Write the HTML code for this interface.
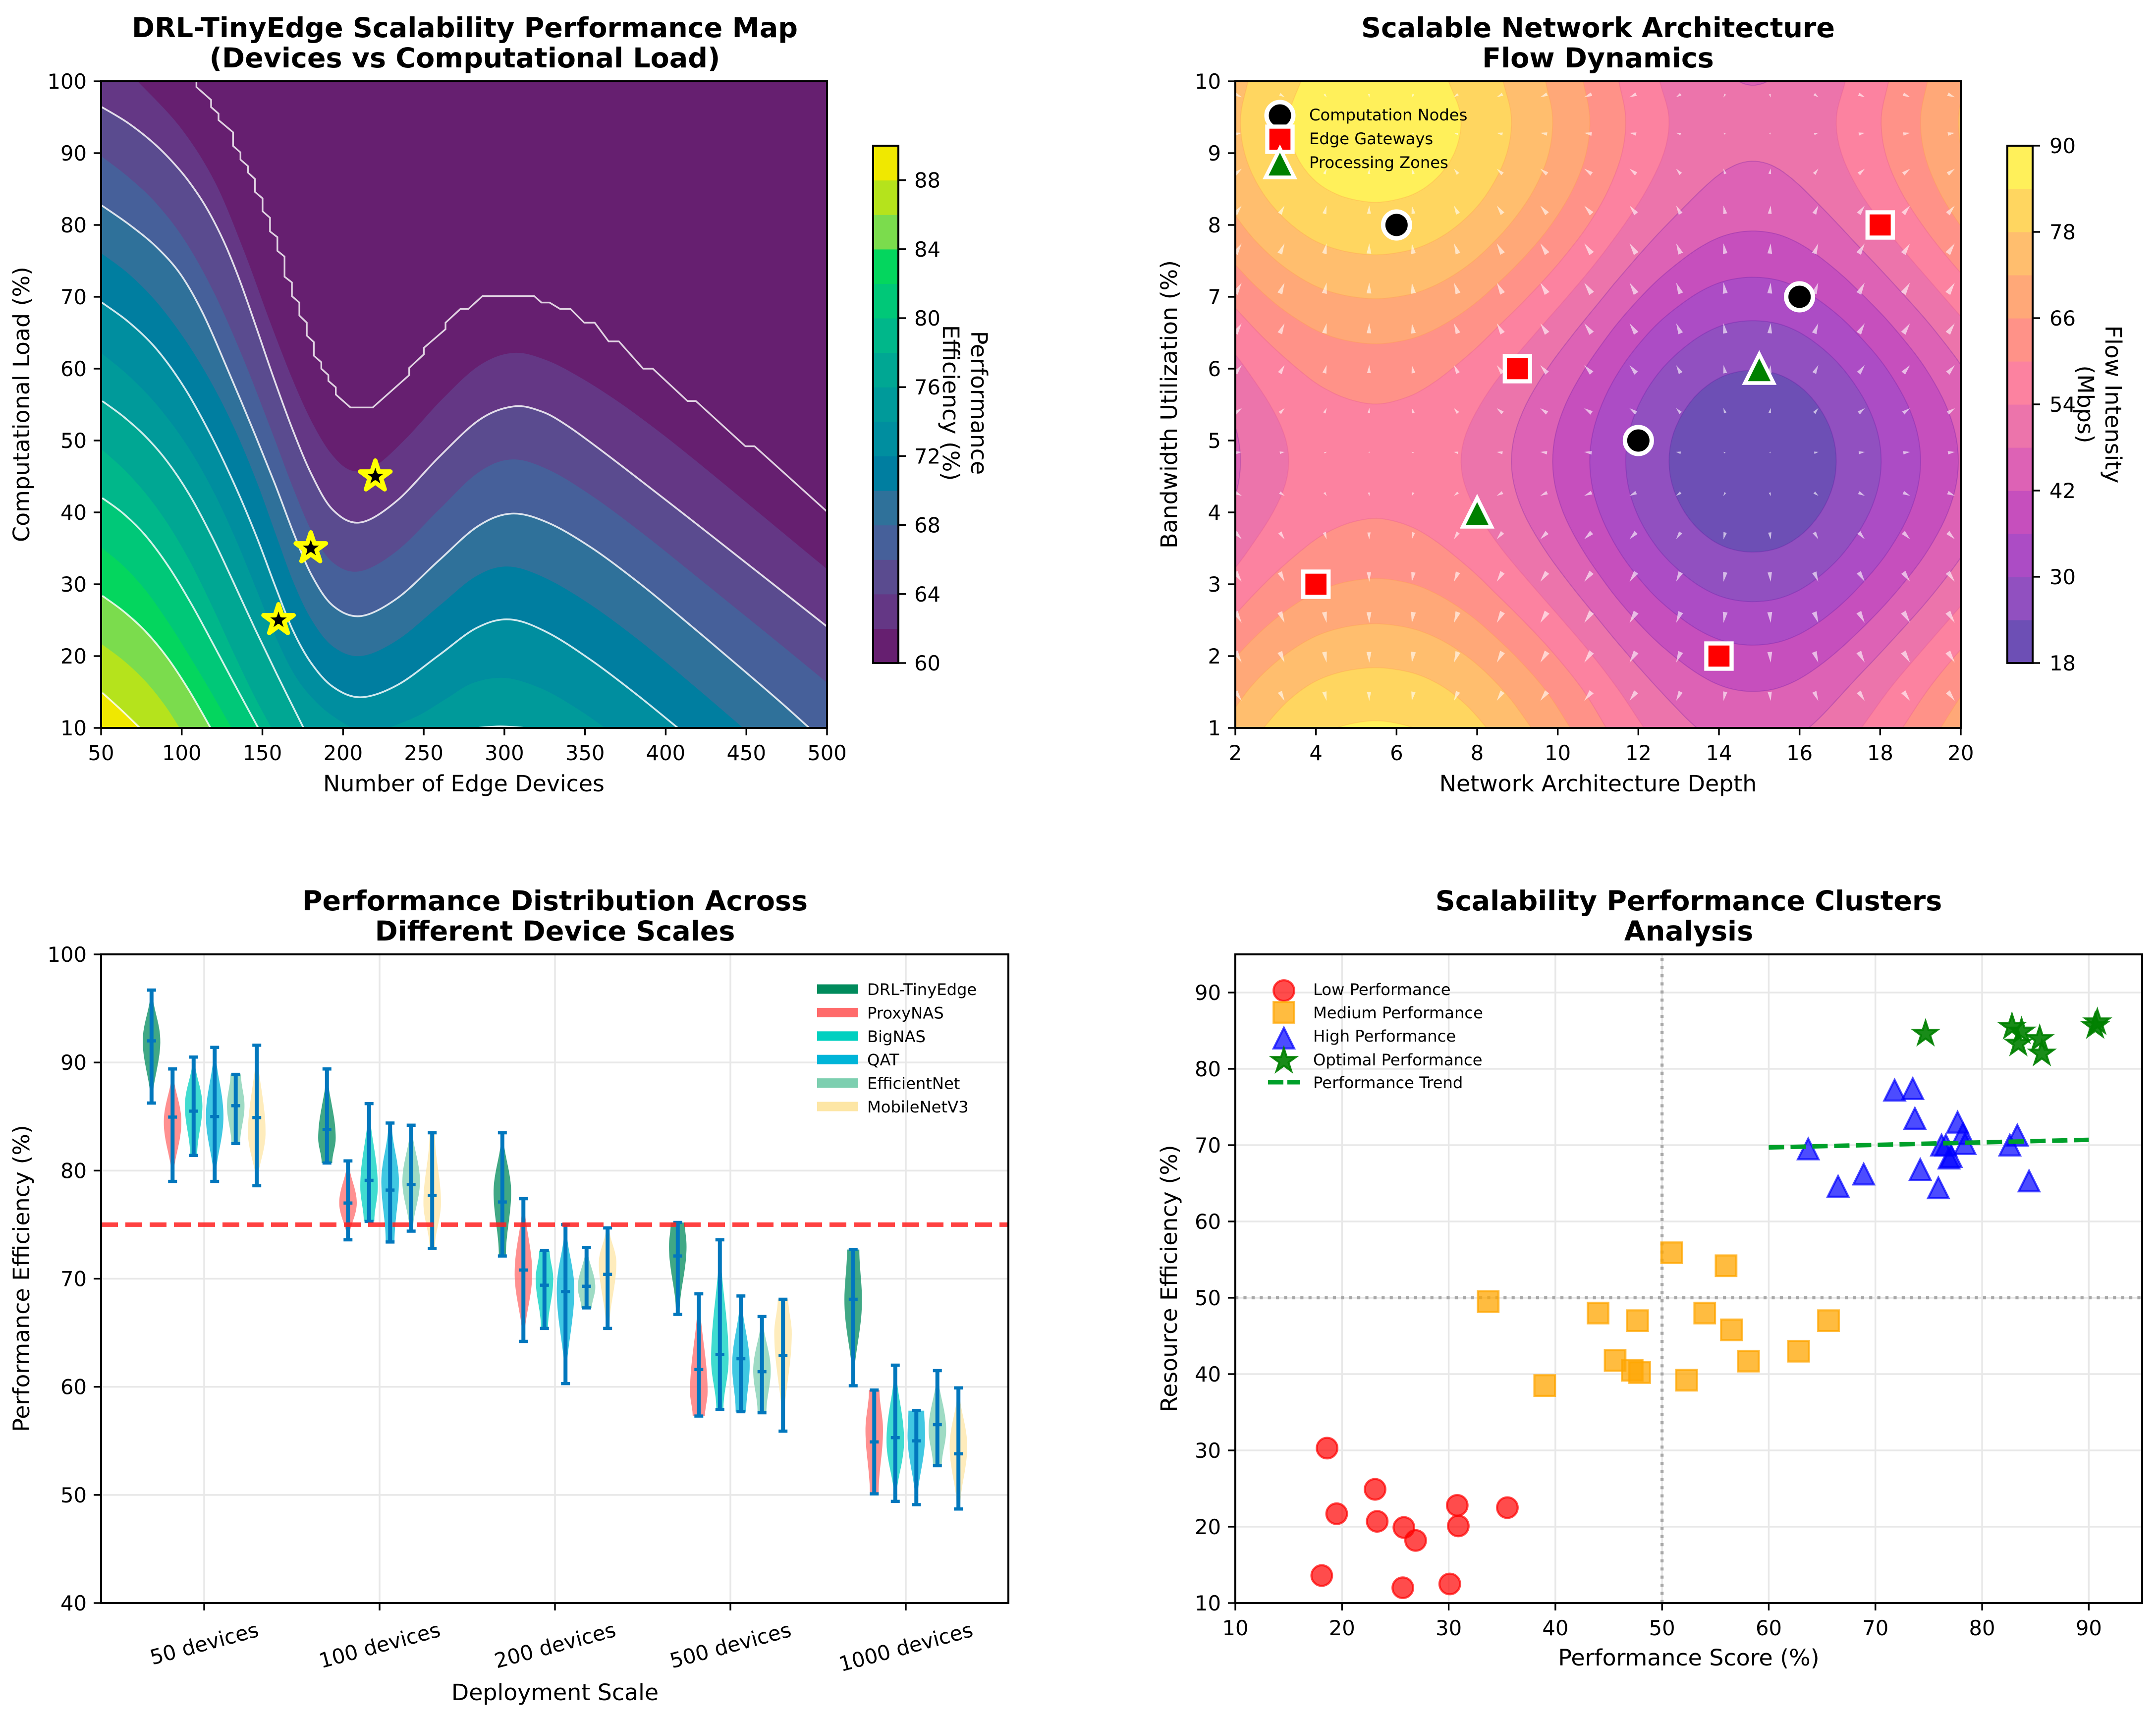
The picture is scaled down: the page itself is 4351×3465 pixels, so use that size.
<!DOCTYPE html>
<html lang="en">
<head>
<meta charset="utf-8">
<title>DRL-TinyEdge Scalability Charts</title>
<style>
html,body{margin:0;padding:0;background:#fff;}
svg{display:block;font-family:"DejaVu Sans","Liberation Sans",sans-serif;}
.title{font-size:55.5px;font-weight:bold;text-anchor:middle;}
.axis-title{font-size:45.83px;text-anchor:middle;}
</style>
</head>
<body>
<svg id="fig" xmlns="http://www.w3.org/2000/svg" width="4351" height="3465" viewBox="0 0 4351 3465">
<defs>
<clipPath id="clipA"><rect x="204" y="164" width="1465" height="1305"/></clipPath>
<clipPath id="clipB"><rect x="2493" y="164" width="1464" height="1305"/></clipPath>
</defs>
<rect width="4351" height="3465" fill="#fff"/>

<g id="panelA">
<text class="title" x="938" y="75">DRL-TinyEdge Scalability Performance Map</text>
<text class="title" x="938" y="136">(Devices vs Computational Load)</text>
<text class="axis-title" x="936" y="1597">Number of Edge Devices</text>
<text class="axis-title" transform="rotate(-90 59 816)" x="59" y="816">Computational Load (%)</text>
<text class="axis-title" transform="rotate(90 1960 813)" x="1960" y="813">Performance</text>
<text class="axis-title" transform="rotate(90 1903 813)" x="1903" y="813">Efficiency (%)</text>
<g id="plotA" clip-path="url(#clipA)"></g>
<g id="axesA"></g>
</g>

<g id="panelB">
<text class="title" x="3225" y="75">Scalable Network Architecture</text>
<text class="title" x="3225" y="136">Flow Dynamics</text>
<text class="axis-title" x="3225" y="1597">Network Architecture Depth</text>
<text class="axis-title" transform="rotate(-90 2375 816)" x="2375" y="816">Bandwidth Utilization (%)</text>
<text class="axis-title" transform="rotate(90 4249 816)" x="4249" y="816">Flow Intensity</text>
<text class="axis-title" transform="rotate(90 4193 816)" x="4193" y="816">(Mbps)</text>
<g id="plotB" clip-path="url(#clipB)"></g>
<g id="marksB"></g>
<g id="axesB"></g>
</g>

<g id="panelC">
<text class="title" x="1120" y="1837">Performance Distribution Across</text>
<text class="title" x="1120" y="1898">Different Device Scales</text>
<text class="axis-title" x="1120" y="3431">Deployment Scale</text>
<text class="axis-title" transform="rotate(-90 59 2580)" x="59" y="2580">Performance Efficiency (%)</text>
<g id="gridC"></g>
<g id="marksC"></g>
<g id="axesC"></g>
</g>

<g id="panelD">
<text class="title" x="3408" y="1837">Scalability Performance Clusters</text>
<text class="title" x="3408" y="1898">Analysis</text>
<text class="axis-title" x="3408" y="3361">Performance Score (%)</text>
<text class="axis-title" transform="rotate(-90 2375 2580)" x="2375" y="2580">Resource Efficiency (%)</text>
<g id="gridD"></g>
<g id="marksD"></g>
<g id="axesD"></g>
</g>
</svg>

<script>
/* ---------- Panel A data: load (%) at which efficiency reaches each level, digitised as [devices, load] ---------- */
const bandColorsA = ['#661f70','#643785','#5a4b8f','#46609a','#2f719a','#007ea0','#008e9f','#009a9a','#00a793','#00b78a','#00c878','#04d65e','#7bdc4d','#b5e31c','#f0e800'];
const iso60 = [[109.1,100],[109.1,99.2],[118.2,97.4],[118.2,96.4],[122.8,95.5],[122.8,94.6],[131.8,92.9],[131.8,91],[136.4,90.1],[136.4,89.1],[141,88.2],[141,87.3],[145.4,86.4],[145.4,84.6],[150.1,83.7],[150.1,81.9],[154.7,81],[154.7,79.1],[159.3,78.3],[159.3,76.4],[163.7,75.6],[163.7,72.8],[168.3,72],[168.3,70.1],[172.9,69.2],[172.9,67.4],[177.5,66.4],[177.5,64.6],[181.9,63.7],[181.9,61.8],[186.5,60.9],[186.5,60],[190.9,59.1],[190.9,58.3],[195.5,57.4],[195.5,56.4],[204.6,54.6],[218.4,54.6],[241,59.1],[241,60.1],[250.1,62],[250.1,62.9],[263.5,65.5],[263.5,66.4],[272.7,68.3],[277.6,68.3],[286.4,70.1],[318.5,70.1],[323,69.2],[328,69.2],[334.6,68.3],[341,68.3],[349.5,66.4],[356,66.4],[364.6,63.8],[371,63.8],[386,60],[392,60],[413.5,55.5],[418.7,55.5],[449.4,49.2],[455.1,49.2],[500,40.1]];
const iso62 = [[72.6,100],[101.7,93.2],[119.3,87],[137,77.2],[154.5,65.5],[171.4,58],[180.3,52.7],[194,47.8],[206.4,46],[220,46.6],[235.2,49],[265,56.7],[285,60.8],[305,62.2],[325,61],[349,58.3],[370,55.5],[400,50.6],[430,45],[460,39.5],[500,32.1]];
const iso64 = [[50.5,96.4],[66.4,94.3],[84,91.4],[101.7,86.7],[110.5,84],[119.3,80.6],[128.1,76.6],[137,72],[145.7,65.8],[157.7,58.3],[169.3,51.5],[180.3,45.7],[194,40.7],[211.8,38.3],[228.3,39.8],[265,49.5],[283,53.2],[305.5,54.6],[325,53.7],[340,51.7],[355,49.3],[385,44.4],[415,39.2],[445,33.6],[475,28.7],[500,24.1]];
const iso66 = [[50.5,89.5],[66.4,86.7],[84,83],[101.7,78],[119.3,71],[137,62],[154.5,52],[170.7,42.9],[180.3,37.4],[194,33.6],[211.8,31.7],[228.3,33],[265,41.6],[283,46],[304.8,47],[325,46],[355,42.3],[385,37],[415,31.8],[445,26.3],[475,21],[500,16.3]];
const iso68 = [[50.5,82.7],[66.4,80.3],[84,76.9],[101.7,72.3],[110.5,69.2],[128,59.7],[142.2,52],[159.7,44.1],[169.3,37],[180.3,31.2],[194,27.5],[213.2,25.4],[228.3,26.6],[265,34.6],[283,38.3],[304.8,39.6],[325,38.6],[355,34.9],[385,30],[415,24.1],[445,18.6],[475,13],[489,10]];
const iso70 = [[50.5,76],[66.4,73.5],[84,69.5],[101.7,64],[117.2,58.3],[132.3,52.1],[146,44.5],[159.7,36.5],[169,30.2],[180.3,25.3],[194,21.8],[213.2,19.7],[228.3,21],[265,28.2],[283,31.2],[301,32.2],[322,31.2],[355,26.9],[385,22],[415,16.1],[448,10]];
const iso72 = [[50.5,69.2],[66.4,66.4],[84,63],[101.7,57.8],[118.6,50],[132.3,43.8],[146,37.4],[159.7,29],[167.9,23.5],[180.3,19.5],[194,16.1],[213.2,14],[228.3,14.9],[265,21],[283,24.1],[302.5,25],[325,23.5],[355,19.2],[385,14],[407.5,10]];
const iso74 = [[50.5,62.1],[66.4,59.4],[84,54.8],[104.9,49.4],[118.6,42.9],[132.3,36.7],[146,30],[159.7,22],[170,17],[187.2,12.5],[205,10]];
const iso74b = [[228.3,10],[247,11.5],[265,13.6],[280,16.4],[299.5,17.6],[325,15.2],[347.5,12.1],[362.5,10]];
const iso76 = [[50.7,55.5],[63.7,53.4],[77.4,50.6],[91.1,46.9],[104.9,42.6],[118.6,36.7],[132.3,30],[146,23.5],[157,18.3],[175.5,10]];
const iso76b = [[283,10],[296.5,10.6],[313,10]];
const iso78 = [[50.7,48.7],[63.7,46.3],[77.4,42.6],[91.1,38.3],[104.9,33.6],[118.6,26.9],[132.3,20.4],[146,13.6],[155.6,10]];
const iso80 = [[50.7,42],[63.7,39.8],[77.4,37],[91.1,32.7],[107.6,26.6],[118.6,22],[132.3,16.1],[147.4,10]];
const iso82 = [[50.7,35],[63.7,32.7],[77.4,29.3],[91.1,25],[104.9,19.5],[118.6,15.2],[130.9,10]];
const iso84 = [[50.7,28.4],[63.7,26.3],[77.4,23.5],[91.1,19.8],[104.9,15.2],[117.9,10]];
const iso86 = [[50.7,21.6],[63.7,19.5],[77.4,16.7],[91.1,12.7],[98.7,10]];
const iso88 = [[50.7,14.9],[63.7,12.4],[74,10]];
const isoLevels = [62,64,66,68,70,72,74,74,76,76,78,80,82,84,86,88];
const isoArcs = [iso62,iso64,iso66,iso68,iso70,iso72,iso74,iso74b,iso76,iso76b,iso78,iso80,iso82,iso84,iso86,iso88];
const optimalDevices = [160,180,220];
const optimalLoads = [25,35,45];
const xTicksA = [50,100,150,200,250,300,350,400,450,500];
const yTicksA = [10,20,30,40,50,60,70,80,90,100];
const cbarTicksA = [60,64,68,72,76,80,84,88];

/* ---------- Panel B data ---------- */
const bandColorsB = ['#6d4fb5','#9150c0','#ac4cc5','#c64fbd','#dd62b5','#ec74ab','#fc82a0','#ff9288','#ffa878','#ffbe6e','#ffd660','#fff05a'];
const flowLevels = [24,30,36,42,48,54,60,66,72,78,84];
const depthStart = 2;
const depthStep = 0.5;
const flowByDepth = [8.29,11.21,13.69,15.70,17.27,18.25,18.79,18.99,18.74,18.14,17.02,15.42,13.40,10.91,8.23,5.35,2.25,-0.98,-4.34,-7.74,-10.89,-13.70,-15.99,-17.88,-19.2,-19.86,-19.96,-19.53,-18.44,-16.72,-14.53,-11.90,-9.10,-6.06,-2.97,0.25,3.43];
const bandwidthStart = 1;
const bandwidthStep = 0.5;
const flowByBandwidth = [65.74,62.05,57.48,52.51,47.71,43.60,40.61,39.10,39.22,40.97,44.15,48.40,53.27,58.21,62.68,66.16,68.35,68.94,67.85];
const nodeDepths = [6,16,12];
const nodeBandwidths = [8,7,5];
const gatewayDepths = [4,9,14,18];
const gatewayBandwidths = [3,6,2,8];
const zoneDepths = [8,15];
const zoneBandwidths = [4,6];
const xTicksB = [2,4,6,8,10,12,14,16,18,20];
const yTicksB = [1,2,3,4,5,6,7,8,9,10];
const cbarTicksB = [18,30,42,54,66,78,90];

/* ---------- Panel C data ---------- */
const deviceScales = ['50 devices','100 devices','200 devices','500 devices','1000 devices'];
const methodNames = ['DRL-TinyEdge','ProxyNAS','BigNAS','QAT','EfficientNet','MobileNetV3'];
const methodColors = ['#008b5c','#ff6b6b','#00d0c0','#00b5d8','#7dcfb0','#fde6a5'];
const violinMax = [[96.7,89.4,90.5,91.4,88.9,91.6],[89.4,80.9,86.2,84.4,84.2,83.5],[83.5,77.4,72.6,75,72.9,74.7],[75.2,68.6,73.6,68.4,66.5,68.1],[72.7,59.7,62,57.8,61.5,59.9]];
const violinMin = [[86.25,79,81.4,79,82.5,78.6],[80.7,73.6,75.3,73.4,74.4,72.8],[72.1,64.2,65.4,60.3,67.3,65.4],[66.7,57.3,57.9,57.7,57.6,55.9],[60.1,50.1,49.4,49.1,52.7,48.7]];
const violinMean = [[92,84.95,85.5,85,86,84.9],[83.8,77,79.1,78.2,78.7,77.7],[77.1,70.8,69.4,68.8,69.3,70.4],[72.1,61.6,63,62.6,61.4,62.9],[68.1,54.9,55.3,55,56.5,53.8]];
const violinPeak = [[92,84.5,86,85,86,83.5],[83,77,78.5,79,79,77],[78,70.5,70,69,69.2,71.5],[73,59.5,62.5,62,61.5,65],[68,56,55,55.5,56,54.5]];
const violinTopWidth = [[0.1,0.05,0.1,0.1,0.6,0.05],[0.05,0.1,0.05,0.2,0.1,0.3],[0.1,0.1,0.6,0.1,0.1,0.2],[0.8,0.1,0.05,0.1,0.1,0.6],[0.7,0.6,0.1,0.9,0.05,0.1]];
const violinBottomWidth = [[0.1,0.05,0.4,0.1,0.5,0.05],[0.6,0.1,0.6,0.5,0.2,0.3],[0.4,0.1,0.4,0.05,0.6,0.2],[0.2,0.7,0.4,0.6,0.5,0.05],[0.05,0.5,0.1,0.1,0.5,0.2]];
const targetEfficiency = 75;
const yTicksC = [40,50,60,70,80,90,100];

/* ---------- Panel D data ---------- */
const lowX = [18.6,23.1,19.5,23.3,25.8,26.9,30.8,30.9,35.5,18.1,25.7,30.1];
const lowY = [30.3,24.9,21.7,20.7,19.9,18.2,22.8,20.1,22.5,13.6,12,12.5];
const mediumX = [33.7,44,47.7,54,56.5,65.6,62.8,58.1,45.6,47.2,47.9,52.3,39,50.9,56];
const mediumY = [49.5,48,47,48,45.8,47,43,41.7,41.8,40.5,40.2,39.2,38.5,55.9,54.2];
const highX = [71.8,73.5,73.7,77.7,78.2,83.3,78.4,76.2,76.6,82.6,63.7,77.1,76.9,74.2,68.9,66.5,75.9,84.4];
const highY = [77.2,77.4,73.5,73,71.5,71.3,70.2,70,70,70,69.5,68.5,68.3,66.8,66.2,64.6,64.4,65.3];
const optimalX = [74.7,82.8,83.7,83.4,85.4,85.6,90.8,90.6];
const optimalY = [84.6,85.5,84.9,83.3,83.9,82,86.1,85.6];
const trendX = [60,90];
const trendY = [69.7,70.7];
const xTicksD = [10,20,30,40,50,60,70,80,90];
const yTicksD = [10,20,30,40,50,60,70,80,90];

/* ---------- helpers ---------- */
const NS = 'http://www.w3.org/2000/svg';
const LEGEND_FS = 32.2;
const GRID_COLOR = '#e8e8e8';
const $ = id => document.getElementById(id);
function mk(tag, attrs, parent) {
  const el = document.createElementNS(NS, tag);
  for (const k in attrs) el.setAttribute(k, attrs[k]);
  if (parent) parent.appendChild(el);
  return el;
}
function txt(parent, s, x, y, fs, anchor) {
  const t = mk('text', {x: x, y: y, 'font-size': fs, 'text-anchor': anchor || 'start', fill: '#000'}, parent);
  t.textContent = s;
  return t;
}
function relax(pts) {
  /* shrink-free smoothing of digitising noise; end points stay fixed */
  let cur = pts.map(p => p.slice());
  const pass = w => {
    const next = cur.map(p => p.slice());
    for (let i = 1; i < cur.length - 1; i++) {
      next[i][0] = cur[i][0] + w * ((cur[i - 1][0] + cur[i + 1][0]) / 2 - cur[i][0]);
      next[i][1] = cur[i][1] + w * ((cur[i - 1][1] + cur[i + 1][1]) / 2 - cur[i][1]);
    }
    cur = next;
  };
  for (let n = 0; n < 4; n++) { pass(0.5); pass(-0.53); }
  return cur;
}
function curve(pts) {
  let d = '';
  for (let i = 0; i < pts.length - 1; i++) {
    const p0 = pts[Math.max(i - 1, 0)], p1 = pts[i], p2 = pts[i + 1], p3 = pts[Math.min(i + 2, pts.length - 1)];
    const c1x = p1[0] + (p2[0] - p0[0]) / 6, c1y = p1[1] + (p2[1] - p0[1]) / 6;
    const c2x = p2[0] - (p3[0] - p1[0]) / 6, c2y = p2[1] - (p3[1] - p1[1]) / 6;
    d += ' C' + c1x.toFixed(1) + ' ' + c1y.toFixed(1) + ' ' + c2x.toFixed(1) + ' ' + c2y.toFixed(1) + ' ' + p2[0].toFixed(1) + ' ' + p2[1].toFixed(1);
  }
  return d;
}
function drawFrame(g, left, top, right, bottom) {
  const frame = mk('rect', {x: left, y: top, width: right - left, height: bottom - top, fill: 'none', stroke: '#000', 'stroke-width': 4}, g);
  
  
}
function drawXTicks(g, values, fx, bottom) {
  values.forEach(v => {
    const tick = mk('line', {x1: fx(v), x2: fx(v), y1: bottom, y2: bottom + 15, stroke: '#000', 'stroke-width': 3.4}, g);
    
    
    const label = txt(g, String(v), fx(v), bottom + 65, 41.67, 'middle');
    
    
  });
}
function drawYTicks(g, values, fy, left) {
  values.forEach(v => {
    const tick = mk('line', {x1: left - 15, x2: left, y1: fy(v), y2: fy(v), stroke: '#000', 'stroke-width': 3.4}, g);
    
    
    const label = txt(g, String(v), left - 29, fy(v) + 15, 41.67, 'end');
    
    
  });
}
function drawColorbar(g, x0, x1, y0, y1, vmin, vmax, step, colors, ticks, labelX) {
  const fy = v => y1 - (v - vmin) * (y1 - y0) / (vmax - vmin);
  colors.forEach((c, i) => {
    const seg = mk('rect', {x: x0, y: fy(vmin + (i + 1) * step), width: x1 - x0, height: fy(vmin + i * step) - fy(vmin + (i + 1) * step) + 0.6, fill: c}, g);
    
    
  });
  const outline = mk('rect', {x: x0, y: y0, width: x1 - x0, height: y1 - y0, fill: 'none', stroke: '#000', 'stroke-width': 4}, g);
  
  
  ticks.forEach(v => {
    const tick = mk('line', {x1: x1, x2: x1 + 15, y1: fy(v), y2: fy(v), stroke: '#000', 'stroke-width': 3.4}, g);
    
    
    const label = txt(g, String(v), labelX, fy(v) + 15, 41.67, 'start');
    
    
  });
}
function starPoints(cx, cy, R) {
  const pts = [];
  for (let i = 0; i < 10; i++) {
    const r = i % 2 ? R * 0.382 : R, a = -Math.PI / 2 + i * Math.PI / 5;
    pts.push((cx + r * Math.cos(a)).toFixed(1) + ',' + (cy + r * Math.sin(a)).toFixed(1));
  }
  return pts.join(' ');
}
function triPoints(cx, cy, r) {
  return cx + ',' + (cy - r) + ' ' + (cx - r) + ',' + (cy + r) + ' ' + (cx + r) + ',' + (cy + r);
}

/* ---------- Panel A ---------- */
(function () {
  const xA = v => 204 + (v - 50) * 1465 / 450;
  const yA = v => 1469 - (v - 10) * 1305 / 90;
  const plot = $('plotA'), axes = $('axesA');
  const base = mk('rect', {x: 204, y: 164, width: 1465, height: 1305, fill: bandColorsA[0]}, plot);
  
  
  const bottomPx = yA(10) + 12, leftPx = xA(50) - 6;
  isoArcs.forEach((arc, idx) => {
    const lvl = isoLevels[idx];
    const pts = relax(arc.map(p => [xA(p[0]), yA(p[1])]));
    const first = pts[0], last = pts[pts.length - 1];
    let d;
    if (arc[0][1] > 10.5) {
      d = 'M' + leftPx + ' ' + bottomPx + ' L' + leftPx + ' ' + first[1].toFixed(1) + ' L' + first[0].toFixed(1) + ' ' + first[1].toFixed(1);
    } else {
      d = 'M' + first[0].toFixed(1) + ' ' + bottomPx + ' L' + first[0].toFixed(1) + ' ' + first[1].toFixed(1);
    }
    d += curve(pts) + ' L' + last[0].toFixed(1) + ' ' + bottomPx + ' Z';
    const band = mk('path', {d: d, fill: bandColorsA[(lvl - 60) / 2]}, plot);
    
    
  });
  isoArcs.forEach((arc, idx) => {
    const lvl = isoLevels[idx];
    if ((lvl - 60) % 4 !== 0) return;
    const pts = relax(arc.map(p => [xA(p[0]), yA(p[1])]));
    const line = mk('path', {d: 'M' + pts[0][0].toFixed(1) + ' ' + pts[0][1].toFixed(1) + curve(pts), fill: 'none', stroke: '#fff', 'stroke-opacity': 0.82, 'stroke-width': 3.6}, plot);
    
    
  });
  const jag = mk('polyline', {points: iso60.map(p => xA(p[0]).toFixed(1) + ',' + yA(p[1]).toFixed(1)).join(' '), fill: 'none', stroke: '#fff', 'stroke-opacity': 0.8, 'stroke-width': 3.4}, plot);
  
  
  optimalDevices.forEach((v, i) => {
    const s = mk('polygon', {points: starPoints(xA(v), yA(optimalLoads[i]), 32), fill: '#000', stroke: '#ffff00', 'stroke-width': 9, 'stroke-linejoin': 'round'}, plot);
    
    
  });
  drawFrame(axes, 204, 164, 1669, 1469);
  drawXTicks(axes, xTicksA, xA, 1469);
  drawYTicks(axes, yTicksA, yA, 204);
  drawColorbar(axes, 1762, 1813, 294, 1338, 60, 90, 2, bandColorsA, cbarTicksA, 1845);
})();

/* ---------- Panel B ---------- */
(function () {
  const xB = v => 2493 + (v - 2) * 1464 / 18;
  const yB = v => 1469 - (v - 1) * 1305 / 9;
  const plot = $('plotB'), axes = $('axesB'), marks = $('marksB');
  function profile(arr, start, step, v) {
    const u = (v - start) / step;
    const i = Math.max(0, Math.min(arr.length - 2, Math.floor(u)));
    const t = u - i;
    const p1 = arr[i], p2 = arr[i + 1];
    const p0 = i > 0 ? arr[i - 1] : 2 * p1 - p2;
    const p3 = i < arr.length - 2 ? arr[i + 2] : 2 * p2 - p1;
    return 0.5 * (2 * p1 + (p2 - p0) * t + (2 * p0 - 5 * p1 + 4 * p2 - p3) * t * t + (3 * p1 - p0 - 3 * p2 + p3) * t * t * t);
  }
  const surf = (x, y) => profile(flowByDepth, depthStart, depthStep, x) + profile(flowByBandwidth, bandwidthStart, bandwidthStep, y);
  const nx = 181, ny = 91;
  const Z = [];
  for (let j = 0; j < ny; j++) {
    const row = [];
    for (let i = 0; i < nx; i++) row.push(surf(2 + i * 0.1, 1 + j * 0.1));
    Z.push(row);
  }
  const val = (i, j) => (i < 0 || j < 0 || i >= nx || j >= ny) ? -1e6 : Z[j][i];
  const cx = i => xB(2 + Math.max(0, Math.min(nx - 1, i)) * 0.1);
  const cy = j => yB(1 + Math.max(0, Math.min(ny - 1, j)) * 0.1);
  function regionPath(L) {
    const links = new Map(), pos = new Map();
    const connect = (a, b) => {
      if (!links.has(a)) links.set(a, []);
      if (!links.has(b)) links.set(b, []);
      links.get(a).push(b);
      links.get(b).push(a);
    };
    const hEdge = (i, j) => {
      const id = 'h' + i + '_' + j;
      if (!pos.has(id)) {
        const a = val(i, j), b = val(i + 1, j), t = (L - a) / (b - a);
        pos.set(id, [cx(i) + t * (cx(i + 1) - cx(i)), cy(j)]);
      }
      return id;
    };
    const vEdge = (i, j) => {
      const id = 'v' + i + '_' + j;
      if (!pos.has(id)) {
        const a = val(i, j), b = val(i, j + 1), t = (L - a) / (b - a);
        pos.set(id, [cx(i), cy(j) + t * (cy(j + 1) - cy(j))]);
      }
      return id;
    };
    for (let j = -1; j < ny; j++) {
      for (let i = -1; i < nx; i++) {
        const a = val(i, j) >= L, b = val(i + 1, j) >= L, c = val(i + 1, j + 1) >= L, d = val(i, j + 1) >= L;
        const list = [];
        if (a !== b) list.push(hEdge(i, j));
        if (b !== c) list.push(vEdge(i + 1, j));
        if (c !== d) list.push(hEdge(i, j + 1));
        if (d !== a) list.push(vEdge(i, j));
        if (list.length === 2) connect(list[0], list[1]);
        if (list.length === 4) { connect(list[0], list[3]); connect(list[1], list[2]); }
      }
    }
    const seen = new Set();
    let path = '';
    links.forEach((_, start) => {
      if (seen.has(start)) return;
      let cur = start, prev = null, first = true;
      while (cur && !seen.has(cur)) {
        seen.add(cur);
        const p = pos.get(cur);
        path += (first ? 'M' : 'L') + p[0].toFixed(1) + ' ' + p[1].toFixed(1);
        first = false;
        const nb = links.get(cur);
        const next = nb[0] !== prev ? nb[0] : nb[1];
        prev = cur;
        cur = next;
      }
      path += 'Z';
    });
    return path;
  }
  const base = mk('rect', {x: 2493, y: 164, width: 1464, height: 1305, fill: bandColorsB[0]}, plot);
  
  
  flowLevels.forEach((L, k) => {
    const edge = L < 54 ? '#5a0fa0' : (L < 66 ? '#e0508a' : '#ff9a40');
    const band = mk('path', {d: regionPath(L), fill: bandColorsB[k + 1], 'fill-rule': 'evenodd', stroke: edge, 'stroke-opacity': 0.25, 'stroke-width': 2}, plot);
    
    
  });
  /* gradient arrows sampled from the flow surface */
  for (let m = 0; m < 16; m++) {
    for (let k = 0; k < 17; k++) {
      const x = 2 + k * 1.105, y = 9.82 - m * 0.5545;
      const gx = (surf(x + 0.05, y) - surf(x - 0.05, y)) / 0.1;
      const gy = (surf(x, y + 0.05) - surf(x, y - 0.05)) / 0.1;
      const mag = Math.hypot(gx, gy);
      if (mag < 0.01) continue;
      const len = mag * 2.1 + 1, ux = gx / mag, uy = -gy / mag, hw = len * 0.2 + 0.6;
      const px = xB(x), py = yB(y);
      const pts = [[px + ux * len, py + uy * len], [px - uy * hw, py + ux * hw], [px + uy * hw, py - ux * hw]];
      const arrow = mk('polygon', {points: pts.map(p => p[0].toFixed(1) + ',' + p[1].toFixed(1)).join(' '), fill: '#fff', 'fill-opacity': 0.62}, plot);
      
      
    }
  }
  function circleMark(g, x, y) {
    const c = mk('circle', {cx: x, cy: y, r: 27, fill: '#000', stroke: '#fff', 'stroke-width': 9}, g);
    
    
  }
  function squareMark(g, x, y) {
    const s = mk('rect', {x: x - 25.5, y: y - 25.5, width: 51, height: 51, fill: '#ff0000', stroke: '#fff', 'stroke-width': 8.4}, g);
    
    
  }
  function triMark(g, x, y) {
    const t = mk('polygon', {points: triPoints(x, y, 29), fill: '#008000', stroke: '#fff', 'stroke-width': 7.5, 'stroke-linejoin': 'miter', 'stroke-miterlimit': 6}, g);
    
    
  }
  nodeDepths.forEach((v, i) => circleMark(marks, xB(v), yB(nodeBandwidths[i])));
  gatewayDepths.forEach((v, i) => squareMark(marks, xB(v), yB(gatewayBandwidths[i])));
  zoneDepths.forEach((v, i) => triMark(marks, xB(v), yB(zoneBandwidths[i])));
  circleMark(marks, 2583, 233);
  squareMark(marks, 2583, 281);
  triMark(marks, 2583, 329);
  const l1 = txt(marks, 'Computation Nodes', 2642, 243, LEGEND_FS);
  
  
  const l2 = txt(marks, 'Edge Gateways', 2642, 291, LEGEND_FS);
  
  
  const l3 = txt(marks, 'Processing Zones', 2642, 339, LEGEND_FS);
  
  
  drawFrame(axes, 2493, 164, 3957, 1469);
  drawXTicks(axes, xTicksB, xB, 1469);
  drawYTicks(axes, yTicksB, yB, 2493);
  drawColorbar(axes, 4051, 4102, 294, 1338, 18, 90, 6, bandColorsB, cbarTicksB, 4136);
})();

/* ---------- Panel C ---------- */
(function () {
  const xC = v => 412 + v * 354;
  const yC = v => 3235 - (v - 40) * 1309 / 60;
  const grid = $('gridC'), marks = $('marksC'), axes = $('axesC');
  yTicksC.forEach(v => {
    const g = mk('line', {x1: 204, x2: 2035, y1: yC(v), y2: yC(v), stroke: GRID_COLOR, 'stroke-width': 3.5}, grid);
    
    
  });
  deviceScales.forEach((s, i) => {
    const g = mk('line', {x1: xC(i), x2: xC(i), y1: 1926, y2: 3235, stroke: GRID_COLOR, 'stroke-width': 3.5}, grid);
    
    
  });
  const halfW = 17.7, stemColor = '#0277bd';
  deviceScales.forEach((s, gi) => {
    methodNames.forEach((m, mi) => {
      const cx = xC(gi + (mi - 2.5) * 0.12);
      const vmax = violinMax[gi][mi], vmin = violinMin[gi][mi], mean = violinMean[gi][mi];
      const peak = violinPeak[gi][mi], topW = violinTopWidth[gi][mi], botW = violinBottomWidth[gi][mi];
      const right = [], left = [];
      const steps = 30;
      for (let k = 0; k <= steps; k++) {
        const v = vmin + (vmax - vmin) * k / steps;
        let w;
        if (v >= peak) {
          const t = (v - peak) / (vmax - peak || 1);
          w = topW + (1 - topW) * (1 + Math.cos(Math.PI * t)) / 2;
        } else {
          const t = (peak - v) / (peak - vmin || 1);
          w = botW + (1 - botW) * (1 + Math.cos(Math.PI * t)) / 2;
        }
        right.push((cx + w * halfW).toFixed(1) + ',' + yC(v).toFixed(1));
        left.unshift((cx - w * halfW).toFixed(1) + ',' + yC(v).toFixed(1));
      }
      const body = mk('polygon', {points: right.concat(left).join(' '), fill: methodColors[mi], 'fill-opacity': 0.75}, marks);
      
      
      const stem = mk('line', {x1: cx, x2: cx, y1: yC(vmax), y2: yC(vmin), stroke: stemColor, 'stroke-width': 8}, marks);
      
      
      const capTop = mk('line', {x1: cx - 9, x2: cx + 9, y1: yC(vmax), y2: yC(vmax), stroke: stemColor, 'stroke-width': 6.5}, marks);
      
      
      const capBot = mk('line', {x1: cx - 9, x2: cx + 9, y1: yC(vmin), y2: yC(vmin), stroke: stemColor, 'stroke-width': 6.5}, marks);
      
      
      const capMean = mk('line', {x1: cx - 9, x2: cx + 9, y1: yC(mean), y2: yC(mean), stroke: stemColor, 'stroke-width': 6.5}, marks);
      
      
    });
  });
  const target = mk('line', {x1: 204, x2: 2035, y1: yC(targetEfficiency), y2: yC(targetEfficiency), stroke: '#ff2020', 'stroke-opacity': 0.85, 'stroke-width': 9, 'stroke-dasharray': '34 15'}, marks);
  
  
  methodNames.forEach((m, i) => {
    const y = 1996 + i * 47.4;
    const sw = mk('rect', {x: 1649, y: y - 9.5, width: 82, height: 19, fill: methodColors[i]}, marks);
    
    
    const t = txt(marks, m, 1750, y + 12, LEGEND_FS);
    
    
  });
  drawFrame(axes, 204, 1926, 2035, 3235);
  drawYTicks(axes, yTicksC, yC, 204);
  deviceScales.forEach((s, i) => {
    const tick = mk('line', {x1: xC(i), x2: xC(i), y1: 3235, y2: 3250, stroke: '#000', 'stroke-width': 3.4}, axes);
    
    
    const t = txt(axes, s, xC(i), 3300, 41.67, 'middle');
    
    
    const len = t.getComputedTextLength();
    const box = len * Math.sin(Math.PI / 12) + 48 * Math.cos(Math.PI / 12);
    const cy = 3264 + box / 2;
    t.setAttribute('y', cy + 15);
    t.setAttribute('transform', 'rotate(-15 ' + xC(i) + ' ' + cy + ')');
  });
})();

/* ---------- Panel D ---------- */
(function () {
  const xD = v => 2493 + (v - 10) * 1830 / 85;
  const yD = v => 3235 - (v - 10) * 1309 / 85;
  const grid = $('gridD'), marks = $('marksD'), axes = $('axesD');
  xTicksD.forEach(v => {
    const g = mk('line', {x1: xD(v), x2: xD(v), y1: 1926, y2: 3235, stroke: GRID_COLOR, 'stroke-width': 3.5}, grid);
    
    
  });
  yTicksD.forEach(v => {
    const g = mk('line', {x1: 2493, x2: 4323, y1: yD(v), y2: yD(v), stroke: GRID_COLOR, 'stroke-width': 3.5}, grid);
    
    
  });
  const dv = mk('line', {x1: xD(50), x2: xD(50), y1: 3235, y2: 1926, stroke: '#a8a8a8', 'stroke-width': 6.2, 'stroke-dasharray': '6.2 10.2'}, grid);
  
  
  const dh = mk('line', {x1: 2493, x2: 4323, y1: yD(50), y2: yD(50), stroke: '#a8a8a8', 'stroke-width': 6.2, 'stroke-dasharray': '6.2 10.2'}, grid);
  
  
  function dotLow(x, y) {
    const c = mk('circle', {cx: x, cy: y, r: 20.8, fill: '#ff0000', 'fill-opacity': 0.7, stroke: '#ff0000', 'stroke-opacity': 0.7, 'stroke-width': 4.2}, marks);
    
    
  }
  function dotMed(x, y) {
    const s = mk('rect', {x: x - 20.8, y: y - 20.8, width: 41.6, height: 41.6, fill: '#ffa500', 'fill-opacity': 0.75, stroke: '#ffa500', 'stroke-opacity': 0.75, 'stroke-width': 4.2}, marks);
    
    
  }
  function dotHigh(x, y) {
    const t = mk('polygon', {points: triPoints(x, y, 20.8), fill: '#0000ff', 'fill-opacity': 0.7, stroke: '#0000ff', 'stroke-opacity': 0.7, 'stroke-width': 4.2}, marks);
    
    
  }
  function dotOpt(x, y) {
    const t = mk('polygon', {points: starPoints(x, y, 25.5), fill: '#008000', 'fill-opacity': 0.9, stroke: '#008000', 'stroke-opacity': 0.9, 'stroke-width': 4}, marks);
    
    
  }
  lowX.forEach((v, i) => dotLow(xD(v), yD(lowY[i])));
  mediumX.forEach((v, i) => dotMed(xD(v), yD(mediumY[i])));
  highX.forEach((v, i) => dotHigh(xD(v), yD(highY[i])));
  optimalX.forEach((v, i) => dotOpt(xD(v), yD(optimalY[i])));
  const trend = mk('line', {x1: xD(trendX[0]), y1: yD(trendY[0]), x2: xD(trendX[1]), y2: yD(trendY[1]), stroke: '#00a02a', 'stroke-width': 9, 'stroke-dasharray': '31 13'}, marks);
  
  
  dotLow(2591, 1999);
  dotMed(2591, 2043);
  dotHigh(2591, 2095);
  dotOpt(2591, 2141);
  const lgLine = mk('line', {x1: 2559, x2: 2623, y1: 2184, y2: 2184, stroke: '#00a02a', 'stroke-width': 9, 'stroke-dasharray': '31 8'}, marks);
  
  
  const a = txt(marks, 'Low Performance', 2650, 2008, LEGEND_FS);
  
  
  const b = txt(marks, 'Medium Performance', 2650, 2055, LEGEND_FS);
  
  
  const c = txt(marks, 'High Performance', 2650, 2102, LEGEND_FS);
  
  
  const d = txt(marks, 'Optimal Performance', 2650, 2150, LEGEND_FS);
  
  
  const e = txt(marks, 'Performance Trend', 2650, 2196, LEGEND_FS);
  
  
  drawFrame(axes, 2493, 1926, 4323, 3235);
  drawXTicks(axes, xTicksD, xD, 3235);
  drawYTicks(axes, yTicksD, yD, 2493);
})();
</script>
</body>
</html>
